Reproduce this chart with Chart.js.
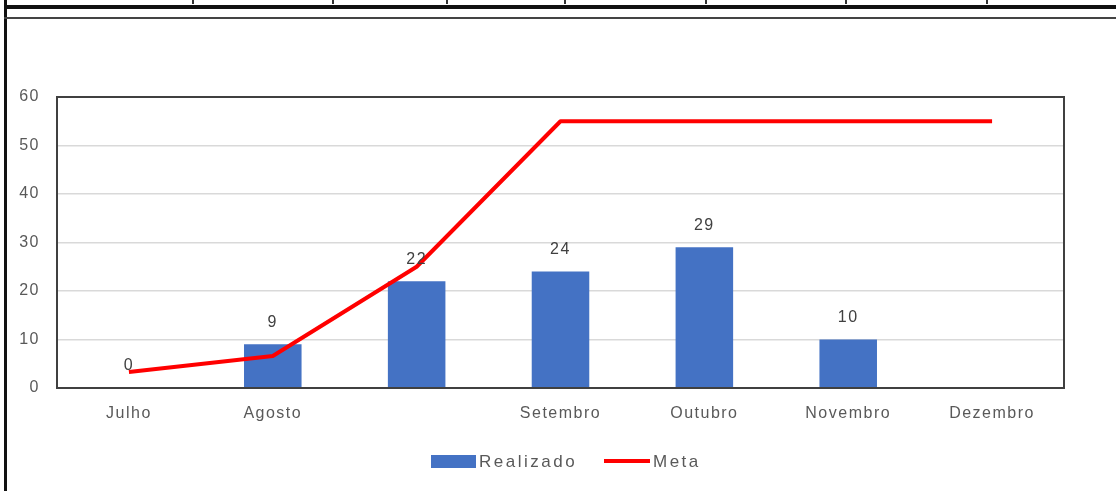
<!DOCTYPE html>
<html>
<head>
<meta charset="utf-8">
<script src="https://cdn.jsdelivr.net/npm/chart.js@4/dist/chart.umd.min.js"></script>
<style>
  html, body { margin: 0; padding: 0; background: #fff; }
  #wrap { position: relative; width: 1116px; height: 491px; overflow: hidden; }
  canvas { position: absolute; left: 0; top: 0; }
  .line { position: absolute; }
</style>
</head>
<body>
<div id="wrap">
  <canvas id="chartMetaCanvas" width="1116" height="491"></canvas>
  <div class="line" style="left:4px;top:0;width:3px;height:491px;background:#111;"></div>
  <div class="line" style="left:4px;top:5px;width:1112px;height:4px;background:#111;"></div>
  <div class="line" style="left:4px;top:17px;width:1112px;height:2px;background:#444;"></div>
  <div id="ticks"></div>
</div>
<script>
var meses     = ['Julho', 'Agosto', '', 'Setembro', 'Outubro', 'Novembro', 'Dezembro'];
var realizado = [0, 9, 22, 24, 29, 10, null];
var meta      = [3.3, 6.6, 25, 55, 55, 55, 55];
var yTicks    = [0, 10, 20, 30, 40, 50, 60];

// little table separators on top of the frame
var tickXs = [192, 332, 446, 564, 705, 845, 986];
tickXs.forEach(function (x) {
    var d = document.createElement('div');
    d.className = 'line';
    d.style.cssText = 'left:' + x + 'px;top:0;width:2px;height:4px;background:#333;';
    document.getElementById('ticks').appendChild(d);
});

const textColor = '#595959';

const plugin = {
    id: 'excel_look',
    beforeDraw: (chart) => {
        chart.ctx.letterSpacing = '1.5px';
    },
    afterDraw: (chart) => {
        const {ctx, chartArea} = chart;
        ctx.save();
        // plot border
        ctx.strokeStyle = '#404040';
        ctx.lineWidth = 2;
        ctx.strokeRect(chartArea.left, chartArea.top, chartArea.right - chartArea.left, chartArea.bottom - chartArea.top);

        // value labels above the bars
        const meta0 = chart.getDatasetMeta(0);
        ctx.fillStyle = '#404040';
        ctx.font = '16px "Liberation Sans"';
        ctx.textAlign = 'center';
        ctx.textBaseline = 'middle';
        meta0.data.forEach(function (bar, i) {
            if (realizado[i] === null) return;
            ctx.fillText(String(realizado[i]), bar.x, bar.y - 22);
        });

        // legend
        ctx.letterSpacing = '2.5px';
        ctx.font = '17px "Liberation Sans"';
        ctx.textAlign = 'left';
        ctx.fillStyle = '#4472C4';
        ctx.fillRect(431, 455, 45, 13);
        ctx.fillStyle = textColor;
        ctx.fillText('Realizado', 479, 462);
        ctx.strokeStyle = '#FF0000';
        ctx.lineWidth = 4;
        ctx.beginPath();
        ctx.moveTo(604, 461);
        ctx.lineTo(650, 461);
        ctx.stroke();
        ctx.fillText('Meta', 653, 462);
        ctx.restore();
    }
};

var canvas = document.getElementById('chartMetaCanvas');

new Chart(canvas, {
    type: 'bar',
    plugins: [plugin],
    data: {
        labels: meses,
        datasets: [{
            type: 'bar',
            label: 'Realizado',
            data: realizado,
            backgroundColor: '#4472C4',
            categoryPercentage: 1,
            barPercentage: 0.4,
            order: 2
        }, {
            type: 'line',
            label: 'Meta',
            data: meta,
            borderColor: '#FF0000',
            borderWidth: 4,
            pointRadius: 0,
            tension: 0,
            borderJoinStyle: 'round',
            fill: false,
            order: 1
        }]
    },
    options: {
        responsive: false,
        maintainAspectRatio: false,
        animation: false,
        events: [],
        layout: { padding: { left: 0, top: 97, right: 52, bottom: 58 } },
        plugins: {
            legend: { display: false },
            tooltip: { enabled: false }
        },
        scales: {
            x: {
                grid: { display: false, drawTicks: false },
                border: { display: false },
                ticks: {
                    color: textColor,
                    font: { family: 'Liberation Sans', size: 16 },
                    padding: 16,
                    maxRotation: 0,
                    autoSkip: false
                },
                afterFit: function (scale) { scale.height = 45; }
            },
            y: {
                min: 0,
                max: 60,
                afterBuildTicks: function (scale) {
                    scale.ticks = yTicks.map(function (v) { return { value: v }; });
                },
                grid: { color: '#d9d9d9', lineWidth: 1.5, drawTicks: false },
                border: { display: false },
                ticks: {
                    color: textColor,
                    font: { family: 'Liberation Sans', size: 16 },
                    padding: 17
                },
                afterFit: function (scale) { scale.width = 57; }
            }
        }
    }
});
</script>
</body>
</html>
